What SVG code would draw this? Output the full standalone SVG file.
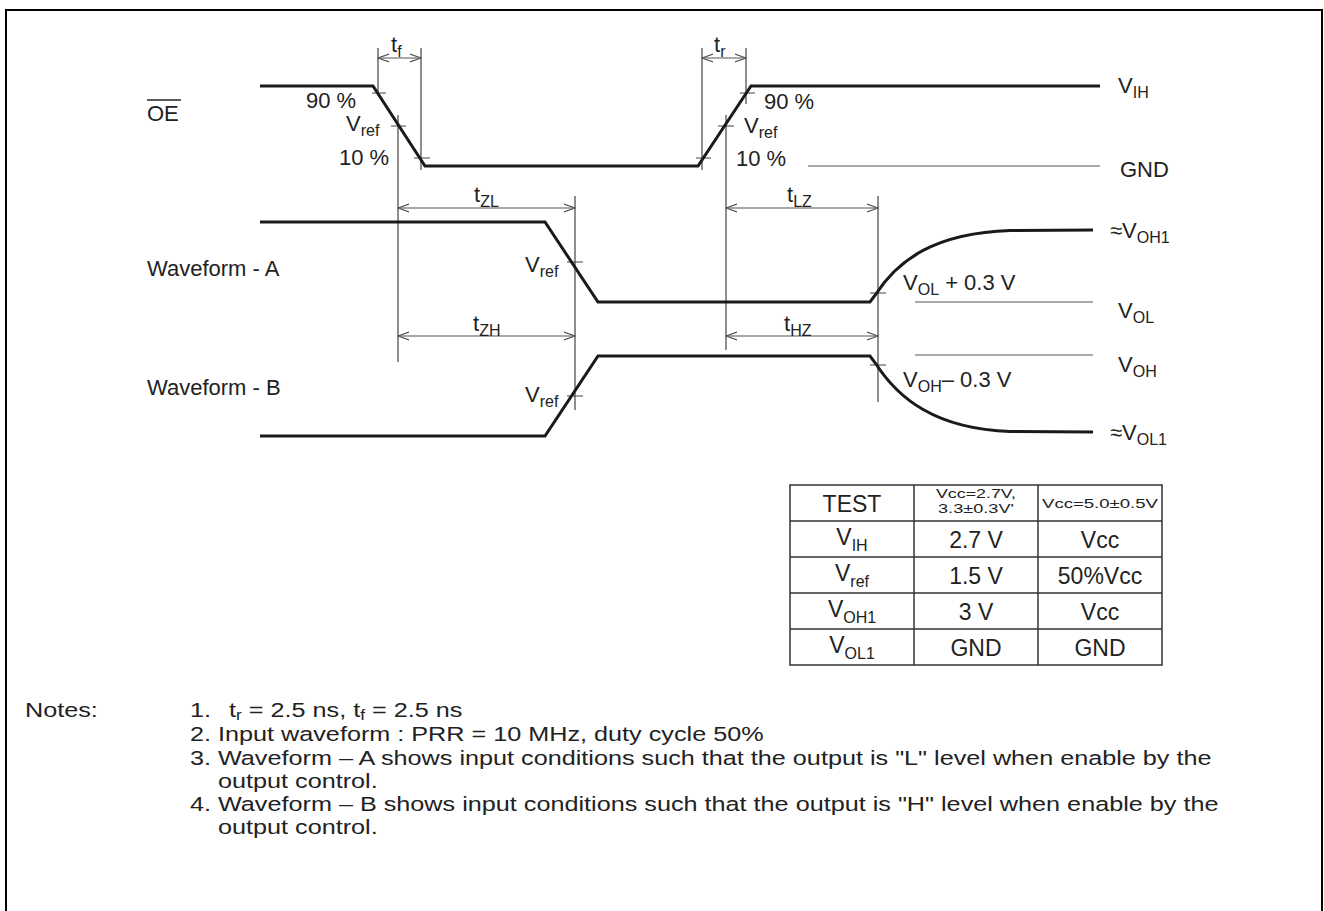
<svg xmlns="http://www.w3.org/2000/svg" width="1324" height="911" viewBox="0 0 1324 911">
<defs>
<style>
text{font-family:"Liberation Sans",Arial,sans-serif;font-size:22px;fill:#222}
.sub{font-size:16px}
.sig{fill:none;stroke:#1a1a1a;stroke-width:3;stroke-linejoin:miter}
.thin{fill:none;stroke:#444;stroke-width:1.2}
.ref{fill:none;stroke:#555;stroke-width:1.2}
.dim{fill:none;stroke:#555;stroke-width:1.2;marker-start:url(#ah);marker-end:url(#ah)}
.tb{fill:none;stroke:#333;stroke-width:1.5}
.tt{font-size:23px;text-anchor:middle}
.ts{font-size:13px;text-anchor:middle}
.nt{font-size:20.5px}
.ns{font-size:14px}
</style>
<marker id="ah" markerWidth="12" markerHeight="10" refX="11" refY="5" orient="auto-start-reverse" markerUnits="userSpaceOnUse">
<path d="M0,1 L11,5 L0,9" fill="none" stroke="#555" stroke-width="1.2"/>
</marker>
</defs>
<rect x="6" y="10" width="1316" height="920" fill="none" stroke="#000" stroke-width="2"/>

<g id="connectors">
<path class="thin" d="M378 48 V96 M421 48 V170 M398 115 V362 M702 48 V170 M746 48 V104 M726 115 V350 M575 196 V410 M878 196 V402"/>
<path class="thin" d="M372 93 H386 M391 126 H406 M414 158 H430 M696 158 H711 M718 126 H734 M740 93 H755 M567 262 H583 M567 396 H583 M870 293 H886 M870 365 H886"/>
<line class="dim" x1="378" y1="58" x2="421" y2="58"/>
<line class="dim" x1="702" y1="58" x2="746" y2="58"/>
<line class="dim" x1="398" y1="208" x2="575" y2="208"/>
<line class="dim" x1="726" y1="208" x2="878" y2="208"/>
<line class="dim" x1="398" y1="336" x2="575" y2="336"/>
<line class="dim" x1="726" y1="336" x2="878" y2="336"/>
<path class="ref" d="M808 166 H1100 M915 302 H1093 M915 355 H1093"/>
</g>

<g id="oe-signal">
<path class="sig" d="M260 86 H373 L425 166 H698 L751 86 H1100"/>
<text x="147" y="121">OE</text>
<line x1="147" y1="100" x2="181" y2="100" stroke="#222" stroke-width="1.3"/>
<text x="306" y="108">90 %</text>
<text x="346" y="131">V<tspan class="sub" dy="5">ref</tspan></text>
<text x="339" y="165">10 %</text>
<text x="764" y="109">90 %</text>
<text x="744" y="133">V<tspan class="sub" dy="5">ref</tspan></text>
<text x="736" y="166">10 %</text>
<text x="391" y="52">t<tspan class="sub" dy="5">f</tspan></text>
<text x="714" y="52">t<tspan class="sub" dy="5">r</tspan></text>
<text x="1118" y="93">V<tspan class="sub" dy="5">IH</tspan></text>
<text x="1120" y="177">GND</text>
</g>

<g id="waveform-a">
<path class="sig" d="M260 222 H545 L598 302 H870 L876 294 C898 260 935 233 1010 230.5 L1093 230"/>
<text x="147" y="276">Waveform - A</text>
<text x="525" y="272">V<tspan class="sub" dy="5">ref</tspan></text>
<text x="474" y="202">t<tspan class="sub" dy="5">ZL</tspan></text>
<text x="787" y="202">t<tspan class="sub" dy="5">LZ</tspan></text>
<text x="1110" y="238">≈V<tspan class="sub" dy="5">OH1</tspan></text>
<text x="903" y="290">V<tspan class="sub" dy="5">OL</tspan><tspan dy="-5"> + 0.3 V</tspan></text>
<text x="1118" y="318">V<tspan class="sub" dy="5">OL</tspan></text>
</g>

<g id="waveform-b">
<path class="sig" d="M260 436 H545 L598 356 H870 L876 364 C898 398 935 429 1010 431.5 L1093 432"/>
<text x="147" y="395">Waveform - B</text>
<text x="525" y="402">V<tspan class="sub" dy="5">ref</tspan></text>
<text x="473" y="331">t<tspan class="sub" dy="5">ZH</tspan></text>
<text x="784" y="331">t<tspan class="sub" dy="5">HZ</tspan></text>
<text x="1118" y="372">V<tspan class="sub" dy="5">OH</tspan></text>
<text x="903" y="387">V<tspan class="sub" dy="5">OH</tspan><tspan dy="-5">– 0.3 V</tspan></text>
<text x="1110" y="440">≈V<tspan class="sub" dy="5">OL1</tspan></text>
</g>

<g id="table">
<rect class="tb" x="790" y="485" width="372" height="180"/>
<path class="tb" d="M914 485 V665 M1038 485 V665 M790 521 H1162 M790 557 H1162 M790 593 H1162 M790 629 H1162"/>
<text class="tt" x="852" y="512">TEST</text>
<text class="ts" x="976" y="498" textLength="80" lengthAdjust="spacingAndGlyphs">Vcc=2.7V,</text>
<text class="ts" x="976" y="513" textLength="76" lengthAdjust="spacingAndGlyphs">3.3±0.3V'</text>
<text class="ts" x="1100" y="508" font-size="14" textLength="116" lengthAdjust="spacingAndGlyphs">Vcc=5.0±0.5V</text>
<text class="tt" x="852" y="545">V<tspan class="sub" dy="6">IH</tspan></text>
<text class="tt" x="976" y="548">2.7 V</text>
<text class="tt" x="1100" y="548">Vcc</text>
<text class="tt" x="852" y="581">V<tspan class="sub" dy="6">ref</tspan></text>
<text class="tt" x="976" y="584">1.5 V</text>
<text class="tt" x="1100" y="584">50%Vcc</text>
<text class="tt" x="852" y="617">V<tspan class="sub" dy="6">OH1</tspan></text>
<text class="tt" x="976" y="620">3 V</text>
<text class="tt" x="1100" y="620">Vcc</text>
<text class="tt" x="852" y="653">V<tspan class="sub" dy="6">OL1</tspan></text>
<text class="tt" x="976" y="656">GND</text>
<text class="tt" x="1100" y="656">GND</text>
</g>

<g id="notes" transform="scale(1.23 1)">
<text class="nt" x="20.33" y="717">Notes:</text>
<text class="nt" x="154.47" y="717">1.</text>
<text class="nt" x="186.18" y="717">t<tspan class="ns" dy="3">r</tspan><tspan dy="-3"> = 2.5 ns, t</tspan><tspan class="ns" dy="3">f</tspan><tspan dy="-3"> = 2.5 ns</tspan></text>
<text class="nt" x="154.47" y="741">2.</text>
<text class="nt" x="177.24" y="741">Input waveform : PRR = 10 MHz, duty cycle 50%</text>
<text class="nt" x="154.47" y="765">3.</text>
<text class="nt" x="177.24" y="765">Waveform – A shows input conditions such that the output is "L" level when enable by the</text>
<text class="nt" x="177.24" y="788">output control.</text>
<text class="nt" x="154.47" y="811">4.</text>
<text class="nt" x="177.24" y="811">Waveform – B shows input conditions such that the output is "H" level when enable by the</text>
<text class="nt" x="177.24" y="834">output control.</text>
</g>
</svg>
